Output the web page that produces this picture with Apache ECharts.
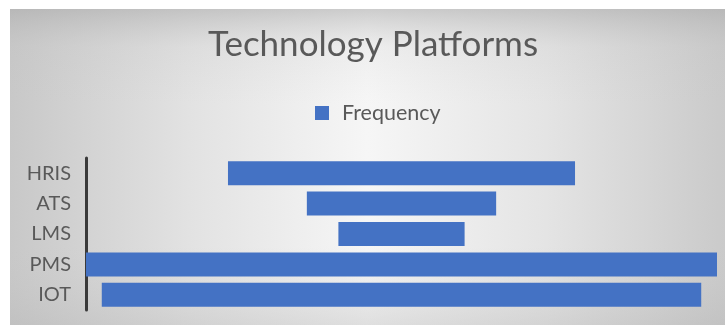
<!DOCTYPE html>
<html>
<head>
<meta charset="utf-8">
<style>html,body{margin:0;padding:0;background:#fff}#c{width:725px;height:325px}</style>
<script src="https://cdn.jsdelivr.net/npm/echarts@6/dist/echarts.min.js"></script>
</head>
<body>
<div id="c"></div>
<script>
const categories = ['HRIS', 'ATS', 'LMS', 'PMS', 'IOT'];
const frequency = [11, 6, 4, 20, 19];
const seriesName = 'Frequency';
const titleText = 'Technology Platforms';

const maxVal = Math.max(...frequency);
const offsets = frequency.map(v => (maxVal - v) / 2);

const chart = echarts.init(document.getElementById('c'), null, {renderer: 'canvas'});
chart.setOption({
  backgroundColor: '#ffffff',
  animation: false,
  graphic: [
    {type: 'rect', z: -10, shape: {x: 10, y: 9, width: 715, height: 316},
     style: {fill: new echarts.graphic.LinearGradient(0, 0, 1, 0, [
       {offset: 0, color: '#c8c8c8'}, {offset: 0.25, color: '#e2e2e2'}, {offset: 0.5, color: '#f6f6f6'},
       {offset: 0.75, color: '#e4e4e4'}, {offset: 1, color: '#cacaca'}])}},
    {type: 'rect', z: -9, shape: {x: 10, y: 9, width: 715, height: 316},
     style: {fill: new echarts.graphic.LinearGradient(0, 0, 0, 1, [
       {offset: 0, color: 'rgba(170,170,170,0.55)'}, {offset: 0.12, color: 'rgba(190,190,190,0.15)'},
       {offset: 0.3, color: 'rgba(200,200,200,0)'}, {offset: 0.75, color: 'rgba(200,200,200,0)'},
       {offset: 1, color: 'rgba(180,180,180,0.35)'}])}}
  ],
  title: {
    text: titleText, left: 203, top: 22,
    textStyle: {fontFamily: 'Lato', fontSize: 35, fontWeight: 'normal', color: '#595959'}
  },
  legend: {
    data: [seriesName], left: 310, top: 97, icon: 'rect', itemWidth: 14, itemHeight: 14,
    textStyle: {fontFamily: 'Lato', fontSize: 21.5, color: '#595959', padding: [0, 0, 0, 8]}
  },
  grid: {left: 86, right: 8, top: 158, bottom: 15, containLabel: false},
  xAxis: {type: 'value', min: 0, max: maxVal, show: false},
  yAxis: {
    type: 'category', data: categories, inverse: true,
    axisLine: {show: true, lineStyle: {color: '#3a3a3a', width: 3}},
    axisTick: {show: false},
    axisLabel: {fontFamily: 'Lato', fontSize: 20, color: '#595959', margin: 15},
    splitLine: {show: false}
  },
  series: [
    {name: 'offset', type: 'bar', stack: 's', data: offsets, barWidth: 24,
     itemStyle: {color: 'rgba(0,0,0,0)'}, silent: true},
    {name: seriesName, type: 'bar', stack: 's', data: frequency, barWidth: 24,
     itemStyle: {color: '#4472C4'}}
  ]
});
</script>
</body>
</html>
